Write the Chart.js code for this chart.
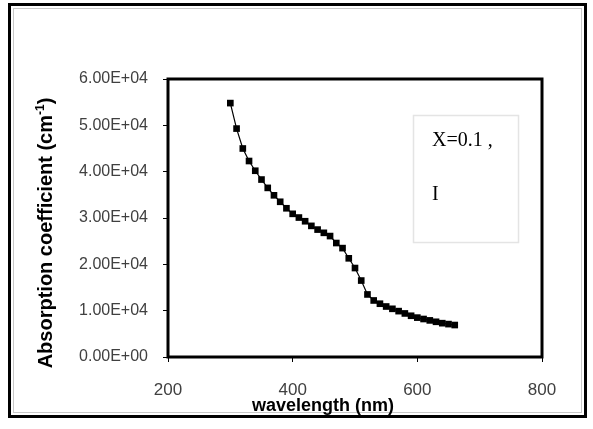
<!DOCTYPE html>
<html>
<head>
<meta charset="utf-8">
<title>Absorption coefficient</title>
<script src="https://cdn.jsdelivr.net/npm/chart.js@4.4.0/dist/chart.umd.min.js"></script>
<style>
  html, body { margin: 0; padding: 0; background: #fff; }
  #wrap { position: relative; width: 593px; height: 429px; }
</style>
</head>
<body>
<div id="wrap"><canvas id="absorption"></canvas></div>
<script>
// wavelength (nm) and absorption coefficient (cm-1)
const wavelengths = [
  300, 310, 320, 330, 340, 350, 360, 370, 380, 390,
  400, 410, 420, 430, 440, 450, 460, 470, 480, 490,
  500, 510, 520, 530, 540, 550, 560, 570, 580, 590,
  600, 610, 620, 630, 640, 650, 660,
];
const absorption = [
  54800, 49300, 45000, 42300, 40200, 38300, 36500, 34900, 33500, 32100,
  30900, 30100, 29300, 28300, 27500, 26800, 26100, 24600, 23500, 21300,
  19200, 16500, 13500, 12200, 11500, 10900, 10400, 9900, 9400, 8900,
  8500, 8200, 7900, 7600, 7300, 7100, 6900,
];
const yTickLabels = ['0.00E+00', '1.00E+04', '2.00E+04', '3.00E+04', '4.00E+04', '5.00E+04', '6.00E+04'];
const legendLines = ['X=0.1 ,', 'I'];

const sans = "'Liberation Sans', Arial, sans-serif";
const serif = "'Liberation Serif', 'Times New Roman', serif";

// outer frame, plot box, text box and axis titles
const frame = {
  id: 'frame',
  beforeDraw(chart) {
    const { ctx, width, height } = chart;
    ctx.save();
    ctx.fillStyle = '#fff';
    ctx.fillRect(0, 0, width, height);
    ctx.strokeStyle = '#000';
    ctx.lineWidth = 3;
    ctx.strokeRect(9.5, 4.5, 576, 412);
    ctx.strokeStyle = '#c8c8c8';
    ctx.lineWidth = 1;
    ctx.strokeRect(13.5, 8.5, 568, 404);
    ctx.restore();
  },
  afterDraw(chart) {
    const { ctx, chartArea: a } = chart;
    ctx.save();
    ctx.strokeStyle = '#000';
    ctx.lineWidth = 3;
    ctx.strokeRect(a.left, a.top, a.right - a.left, a.bottom - a.top);

    // text box
    ctx.strokeStyle = '#e4e4e4';
    ctx.lineWidth = 1.5;
    ctx.strokeRect(413.5, 115.5, 105, 127);
    ctx.fillStyle = '#000';
    ctx.font = '20px ' + serif;
    ctx.textBaseline = 'alphabetic';
    ctx.textAlign = 'left';
    ctx.fillText(legendLines[0], 432, 146);
    ctx.fillText(legendLines[1], 432, 200);

    // x title
    ctx.font = 'bold 18px ' + sans;
    ctx.textAlign = 'center';
    ctx.fillText('wavelength (nm)', 323, 411);

    // y title with superscript
    ctx.translate(46, 233);
    ctx.rotate(-Math.PI / 2);
    const main = 'Absorption coefficient (cm';
    const sup = '-1';
    const close = ')';
    ctx.font = 'bold 20px ' + sans;
    const wMain = ctx.measureText(main).width;
    const wClose = ctx.measureText(close).width;
    ctx.font = 'bold 12px ' + sans;
    const wSup = ctx.measureText(sup).width;
    let x = -(wMain + wSup + wClose) / 2;
    ctx.textAlign = 'left';
    ctx.textBaseline = 'middle';
    ctx.font = 'bold 20px ' + sans;
    ctx.fillText(main, x, 0);
    x += wMain;
    ctx.font = 'bold 12px ' + sans;
    ctx.fillText(sup, x, -5);
    x += wSup;
    ctx.font = 'bold 20px ' + sans;
    ctx.fillText(close, x, 0);
    ctx.restore();
  },
};

new Chart(document.getElementById('absorption'), {
  type: 'line',
  data: {
    labels: wavelengths,
    datasets: [{
      data: wavelengths.map((w, i) => ({ x: w, y: absorption[i] })),
      borderColor: '#000',
      backgroundColor: '#000',
      borderWidth: 1.2,
      pointStyle: 'rect',
      pointRadius: 4.7,
      pointBorderWidth: 0,
      tension: 0,
    }],
  },
  options: {
    responsive: true,
    maintainAspectRatio: false,
    animation: false,
    layout: { padding: { top: 79, right: 51, bottom: 0, left: 0 } },
    plugins: { legend: { display: false }, tooltip: { enabled: false } },
    scales: {
      x: {
        type: 'linear',
        min: 200,
        max: 800,
        ticks: { stepSize: 200, color: '#404040', font: { family: sans, size: 17 }, padding: 18 },
        grid: { drawOnChartArea: false, tickLength: 5, color: '#000' },
        border: { display: false },
        afterFit(scale) { scale.height = 72; },
      },
      y: {
        min: 0,
        max: 60000,
        ticks: {
          stepSize: 10000,
          color: '#404040',
          font: { family: sans, size: 16 },
          padding: 15,
          callback: (v) => yTickLabels[Math.round(v / 10000)],
        },
        grid: { drawOnChartArea: false, tickLength: 5, color: '#000' },
        border: { display: false },
        afterFit(scale) { scale.width = 168; },
      },
    },
  },
  plugins: [frame],
});
</script>
</body>
</html>
